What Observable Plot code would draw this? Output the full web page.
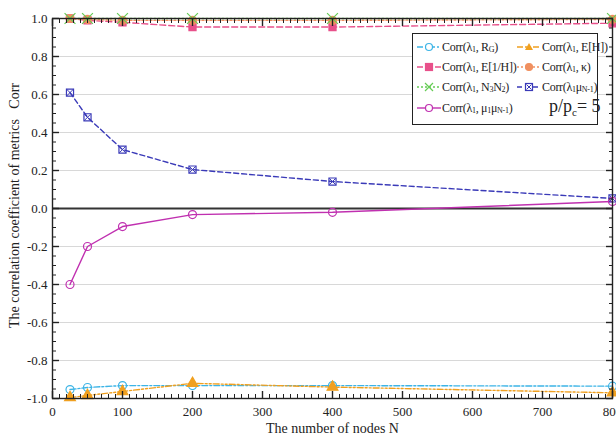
<!DOCTYPE html>
<html>
<head>
<meta charset="utf-8">
<script src="https://cdn.jsdelivr.net/npm/d3@7"></script>
<script src="https://cdn.jsdelivr.net/npm/@observablehq/plot@0.6"></script>
<style>
  html, body { margin: 0; padding: 0; background: white; }
  #wrap { position: relative; width: 616px; height: 441px; overflow: hidden; font-family: "Liberation Serif", "Times New Roman", serif; }
  #wrap svg text { font-family: "Liberation Serif", "Times New Roman", serif !important; font-variant: normal !important; }
  #legend { position: absolute; left: 412px; top: 33px; width: 184px; height: 90px; border: 1.5px solid #222; background: white; }
  .item { position: absolute; font-size: 12px; letter-spacing: -0.3px; white-space: nowrap; color: #222; display: flex; align-items: center; height: 14px; }
  .item svg { margin-right: 1px; }
  .item sub { font-size: 8px; position: relative; top: 3px; vertical-align: baseline; line-height: 0; }
  .pp { position: absolute; font-size: 18px; color: #222; white-space: nowrap; }
  .pp sub { font-size: 11px; position: relative; top: 4px; vertical-align: baseline; line-height: 0; }
</style>
</head>
<body>
<div id="wrap"></div>
<script>
// ---- data ----
const N = [25, 50, 100, 200, 400, 800];
const corrRG      = [-0.953, -0.942, -0.932, -0.932, -0.932, -0.935];
const corrEH      = [-0.995, -0.984, -0.963, -0.920, -0.940, -0.970];
const corrE1H     = [1.0, 0.99, 0.98, 0.955, 0.955, 0.975];
const corrKappa   = [1.0, 0.995, 0.99, 0.99, 0.99, 0.995];
const corrN3N2    = [1.0, 1.0, 1.0, 1.0, 1.0, 1.0];
const corrMuN1    = [0.61, 0.48, 0.31, 0.205, 0.142, 0.053];
const corrMu1MuN1 = [-0.40, -0.20, -0.095, -0.032, -0.02, 0.037];
const xMajorTicks = [0, 100, 200, 300, 400, 500, 600, 700, 800];
const yMajorTicks = [-1.0, -0.8, -0.6, -0.4, -0.2, 0.0, 0.2, 0.4, 0.6, 0.8, 1.0];
const xLabel = "The number of nodes N";
const yLabel = "The correlation coefficient of metrics   Corr";

const xMinor = d3.range(0, 801, 10).filter(v => v % 100 !== 0);
const yMinor = d3.range(-100, 101, 5).map(v => v / 100).filter(v => Math.round(v * 100) % 20 !== 0);

const series = [
  {key: "RG", vals: corrRG, color: "#3cb4e6", dash: "6,2,2,2", symbol: "circle", fill: "none"},
  {key: "EH", vals: corrEH, color: "#f0a020", dash: "6,2,2,2,2,2", symbol: "triangle", fill: "#f0a020"},
  {key: "E1H", vals: corrE1H, color: "#e8508a", dash: "6,3", symbol: "square", fill: "#e8508a"},
  {key: "kappa", vals: corrKappa, color: "#f09060", dash: "2,2", symbol: "circle", fill: "#f09060"},
  {key: "N3N2", vals: corrN3N2, color: "#66cc55", dash: "2,2", symbol: "times", fill: "none"},
  {key: "muN1", vals: corrMuN1, color: "#3a3ab8", dash: "5,3", symbol: "square", fill: "none", extraX: true},
  {key: "mu1muN1", vals: corrMu1MuN1, color: "#c030b0", dash: null, symbol: "circle", fill: "none"}
];

const FONT = "'Liberation Serif', 'Times New Roman', serif";
const marks = [
  Plot.gridY(yMajorTicks.filter(v => Math.abs(v) < 1 && v !== 0), {stroke: "#d8d8d8", strokeOpacity: 1, strokeWidth: 1.2}),
  Plot.ruleY([0], {stroke: "#333", strokeWidth: 1.8})
];
for (const s of series) {
  const data = N.map((n, i) => ({n, v: s.vals[i]}));
  marks.push(Plot.line(data, {x: "n", y: "v", stroke: s.color, strokeWidth: 1.4, strokeDasharray: s.dash}));
}
for (const s of series) {
  const data = N.map((n, i) => ({n, v: s.vals[i]}));
  const opts = {x: "n", y: "v", symbol: s.symbol, r: s.symbol === "times" ? 5 : 4, stroke: s.color, strokeWidth: 1.2};
  opts.fill = s.fill;
  marks.push(Plot.dot(data, opts));
  if (s.extraX) marks.push(Plot.dot(data, {x: "n", y: "v", symbol: "times", r: 3, stroke: s.color, strokeWidth: 1}));
}
const noText = () => "";
marks.push(
  Plot.frame({stroke: "#222", strokeWidth: 1.4}),
  // bottom
  Plot.axisX(xMajorTicks, {anchor: "bottom", tickSize: -7, tickFormat: noText, label: null, strokeWidth: 1.4}),
  Plot.axisX(xMinor, {anchor: "bottom", tickSize: -4, tickFormat: noText, label: null}),
  Plot.axisX(xMajorTicks, {anchor: "bottom", tickSize: 0, tickPadding: 8, label: null, tickFormat: d => String(d), fontSize: 13, fontFamily: FONT, fill: "#222"}),
  // top
  Plot.axisX(xMajorTicks, {anchor: "top", tickSize: -7, tickFormat: noText, label: null, strokeWidth: 1.4}),
  Plot.axisX(xMinor, {anchor: "top", tickSize: -4, tickFormat: noText, label: null}),
  // left
  Plot.axisY(yMajorTicks, {anchor: "left", tickSize: -7, tickFormat: noText, label: null, strokeWidth: 1.4}),
  Plot.axisY(yMinor, {anchor: "left", tickSize: -4, tickFormat: noText, label: null}),
  Plot.axisY(yMajorTicks, {anchor: "left", tickSize: 0, tickPadding: 5, label: null, tickFormat: d => d.toFixed(1), fontSize: 13, fontFamily: FONT, fill: "#222"}),
  // right
  Plot.axisY(yMajorTicks, {anchor: "right", tickSize: -7, tickFormat: noText, label: null, strokeWidth: 1.4}),
  Plot.axisY(yMinor, {anchor: "right", tickSize: -4, tickFormat: noText, label: null}),
  Plot.text([xLabel], {frameAnchor: "bottom", dy: 34, fontSize: 14, fontFamily: FONT, fill: "#222"}),
  Plot.text([yLabel], {frameAnchor: "left", dx: -38, dy: -3, rotate: -90, textAnchor: "middle", fontSize: 14, fontFamily: FONT, fill: "#222"})
);

const chart = Plot.plot({
  width: 616, height: 441,
  marginLeft: 52, marginRight: 4, marginTop: 18, marginBottom: 43,
  style: `font-family: ${FONT}; font-size: 13px; background: white; color: #222;`,
  x: {domain: [0, 800], axis: null},
  y: {domain: [-1, 1], axis: null},
  marks
});
const wrap = document.getElementById("wrap");
wrap.appendChild(chart);

// ---- legend ----
function sample(s) {
  let sym = "";
  const c = s.color, cx = 12, cy = 6;
  if (s.symbol === "circle") sym = `<circle cx="${cx}" cy="${cy}" r="3.5" fill="${s.fill === "none" ? "white" : s.fill}" stroke="${c}" stroke-width="1.2"/>`;
  if (s.symbol === "square") sym = `<rect x="${cx-3.5}" y="${cy-3.5}" width="7" height="7" fill="${s.fill === "none" ? "white" : s.fill}" stroke="${c}" stroke-width="1.2"/>` + (s.extraX ? `<path d="M${cx-2.5},${cy-2.5}L${cx+2.5},${cy+2.5}M${cx-2.5},${cy+2.5}L${cx+2.5},${cy-2.5}" stroke="${c}"/>` : "");
  if (s.symbol === "triangle") sym = `<polygon points="${cx},${cy-4} ${cx+4},${cy+3} ${cx-4},${cy+3}" fill="${c}"/>`;
  if (s.symbol === "times") sym = `<path d="M${cx-4},${cy-4}L${cx+4},${cy+4}M${cx-4},${cy+4}L${cx+4},${cy-4}" stroke="${c}" stroke-width="1.2"/>`;
  return `<svg width="24" height="12"><line x1="0" x2="24" y1="6" y2="6" stroke="${c}" stroke-width="1.4" ${s.dash ? `stroke-dasharray="${s.dash}"` : ""}/>${sym}</svg>`;
}
const legendLabels = [
  "Corr(λ<sub>1</sub>, R<sub>G</sub>)",
  "Corr(λ<sub>1</sub>, E[H])",
  "Corr(λ<sub>1</sub>, E[1/H])",
  "Corr(λ<sub>1</sub>, κ)",
  "Corr(λ<sub>1</sub>, N<sub>3</sub>N<sub>2</sub>)",
  "Corr(λ<sub>1</sub>μ<sub>N-1</sub>)",
  "Corr(λ<sub>1</sub>, μ<sub>1</sub>μ<sub>N-1</sub>)"
];
const legend = document.createElement("div");
legend.id = "legend";
const pos = [[4, 6], [104, 6], [4, 26], [104, 26], [4, 46], [104, 46], [4, 67]];
series.forEach((s, i) => {
  const d = document.createElement("div");
  d.className = "item";
  d.style.left = pos[i][0] + "px";
  d.style.top = pos[i][1] + "px";
  d.innerHTML = sample(s) + legendLabels[i];
  legend.appendChild(d);
});
const pp = document.createElement("div");
pp.className = "pp";
pp.style.left = "136px"; pp.style.top = "62px";
pp.innerHTML = "p/p<sub>c</sub>= 5";
legend.appendChild(pp);
wrap.appendChild(legend);
</script>
</body>
</html>
